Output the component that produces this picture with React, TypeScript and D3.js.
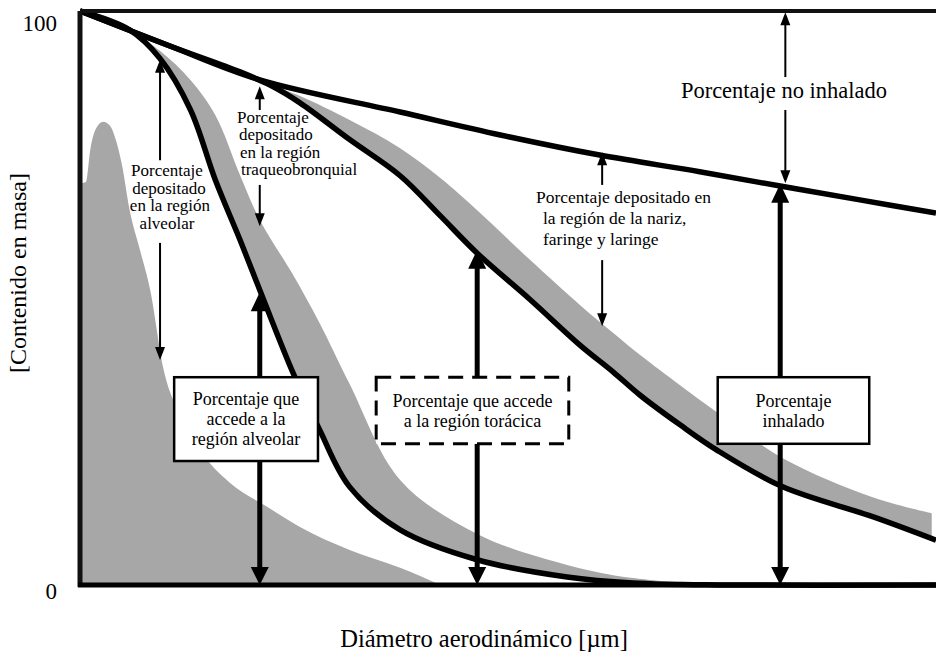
import * as d3 from "d3";

// curva de convención inhalable (x: diámetro relativo 0-100, y: % masa)
const inhalableX = [0, 10.5, 21, 37.4, 49.1, 60.7, 72.4, 81.8, 91.1, 100];
const inhalableY = [100, 93.9, 88, 82.4, 78.4, 74.9, 72, 69.5, 67.1, 64.8];

// curva torácica
const thoracicX = [0, 10.5, 18.7, 22.2, 25.7, 31.5, 37.4, 42.1, 46.4, 52.6, 58.4, 62.3, 65.4, 70.1, 74.4, 82.1, 92.6, 100];
const thoracicY = [100, 93.9, 89.4, 87.1, 84.0, 77.6, 71.3, 64.3, 57.8, 49.7, 41.8, 37.1, 33.1, 27.9, 23.5, 17.1, 11.9, 7.8];

// banda gris sobre la curva torácica
const thoracicBandX = [22.2, 25.7, 31.5, 37.4, 42.1, 46.4, 52.6, 58.4, 62.3, 65.4, 70.1, 74.4, 82.1, 92.6, 99.5];
const thoracicBandTop = [87.1, 85.2, 81.0, 76.1, 70.9, 65.3, 56.6, 48.8, 43.9, 40.1, 34.8, 30.1, 22.1, 15.3, 12.5];
const thoracicBandBottom = [87.1, 84.0, 77.6, 71.3, 64.3, 57.8, 49.7, 41.8, 37.1, 33.1, 27.9, 23.5, 17.1, 11.9, 8.2];

// curva alveolar (respirable)
const alveolarX = [0, 5.8, 9.3, 12.9, 15.8, 18.7, 21.0, 24.9, 28.0, 31.5, 37.4, 46.4, 56.9, 64.6, 74.8, 100];
const alveolarY = [100, 96.7, 91.8, 82.8, 70.6, 60.1, 51.4, 36.9, 27.0, 17.1, 9.6, 4.4, 1.4, 0.35, 0, 0];

// banda gris sobre la curva alveolar
const alveolarBandX = [5.8, 9.3, 12.9, 15.8, 18.7, 21.0, 24.9, 28.0, 31.5, 37.4, 46.4, 56.9, 64.6, 74.8];
const alveolarBandTop = [96.7, 93.1, 88.0, 81.9, 71.4, 63.6, 54.0, 45.6, 35.0, 18.3, 8.9, 3.5, 1.2, 0];
const alveolarBandBottom = [96.7, 91.8, 82.8, 70.6, 60.1, 51.4, 36.9, 27.0, 17.1, 9.6, 4.4, 1.4, 0.35, 0];

// distribución de tamaños de partícula (área gris izquierda)
const sizeDistX = [0.2, 0.7, 1.2, 1.8, 2.7, 3.5, 4.2, 4.9, 5.8, 7.0, 8.2, 9.7, 11.7, 14.0, 17.5, 21.9, 25.7, 31.5, 37.4, 42.1];
const sizeDistY = [70.0, 70.2, 75.8, 79.3, 80.7, 80.0, 77.5, 73.2, 65.3, 58.4, 51.4, 38.0, 29.6, 23.5, 17.8, 13.6, 10.1, 6.1, 3.0, 0];

const yTicks = [100, 0];

// flechas gruesas con recuadro
const accessArrows = [
  { x: 21.0, tip: 51.0, box: [11.0, 27.8, 36.2, 21.6], dashed: false, lines: ["Porcentaje que", "accede a la", "región alveolar"] },
  { x: 46.4, tip: 58.4, box: [34.6, 57.1, 36.2, 24.6], dashed: true, lines: ["Porcentaje que accede", "a la región torácica"] },
  { x: 81.8, tip: 69.9, box: [74.5, 92.2, 36.2, 24.6], dashed: false, lines: ["Porcentaje", "inhalado"] },
];

// flechas finas
const depositArrows = [
  { x: 9.35, up: [74.0, 91.5], down: [59.6, 39.2] },
  { x: 21.0, up: [82.75, 86.9], down: [69.7, 62.5] },
  { x: 61.0, up: [69.7, 75.4], down: [56.6, 45.1] },
  { x: 82.4, up: [88.5, 99.8], down: [82.75, 70.0] },
];

const depositLabels = [
  { x: 10.16, y: 71.25, anchor: "middle", size: 17, lh: 17.5, dx: [0, 2, 3, 0], lines: ["Porcentaje", "depositado", "en la región", "alveolar"] },
  { x: 18.34, y: 80.5, anchor: "start", size: 17, lh: 17.5, dx: [0, 2, 3, 4], lines: ["Porcentaje", "depositado", "en la región", "traqueobronquial"] },
  { x: 53.27, y: 66.55, anchor: "start", size: 17.5, lh: 21, dx: [0, 7, 7], lines: ["Porcentaje depositado en", "la región de la nariz,", "faringe y laringe"] },
  { x: 82.24, y: 84.84, anchor: "middle", size: 22.5, lh: 0, dx: [0], lines: ["Porcentaje no inhalado"] },
];

const FONT = "'Liberation Serif', 'Times New Roman', Times, serif";
const GRAY = "#a7a7a7";

const x = d3.scaleLinear().domain([0, 100]).range([80, 936]);
const y = d3.scaleLinear().domain([0, 100]).range([585, 11]);

type P = [number, number];
const zip = (a: number[], b: number[]): P[] => a.map((v, i) => [v, b[i]] as P);

const smooth = d3.curveCatmullRom.alpha(0.5);

const line = d3
  .line<P>()
  .x((d) => x(d[0]))
  .y((d) => Math.min(y(0), y(d[1])))
  .curve(smooth);

function band(xs: number[], top: number[], bottom: number[]) {
  const rows = xs.map((v, i) => ({ v, t: top[i], b: bottom[i] }));
  return d3
    .area<{ v: number; t: number; b: number }>()
    .x((d) => x(d.v))
    .y0((d) => y(d.b))
    .y1((d) => y(d.t))
    .curve(smooth)(rows);
}

function head(cx: number, tip: number, up: boolean, w: number, h: number) {
  const base = up ? tip + h : tip - h;
  return `M${cx},${tip}L${cx - w / 2},${base}L${cx + w / 2},${base}Z`;
}

export default function App() {
  const sizeArea = d3
    .area<P>()
    .x((d) => x(d[0]))
    .y0(y(0))
    .y1((d) => y(d[1]))
    .curve(d3.curveMonotoneX)(zip(sizeDistX, sizeDistY));

  return (
    <svg
      width={936}
      height={658}
      style={{ position: "absolute", left: 0, top: 0, background: "#fff", fontFamily: FONT }}
    >
      <rect width={936} height={658} fill="#fff" />
      {/* áreas grises */}
      <path d={sizeArea || ""} fill={GRAY} />
      <path d={band(alveolarBandX, alveolarBandTop, alveolarBandBottom) || ""} fill={GRAY} />
      <path d={band(thoracicBandX, thoracicBandTop, thoracicBandBottom) || ""} fill={GRAY} />

      {/* curvas */}
      <path d={line(zip(inhalableX, inhalableY)) || ""} fill="none" stroke="#000" strokeWidth={5.5} />
      <path d={line(zip(thoracicX, thoracicY)) || ""} fill="none" stroke="#000" strokeWidth={5.5} />
      <path d={line(zip(alveolarX, alveolarY)) || ""} fill="none" stroke="#000" strokeWidth={5.5} />

      {/* marco */}
      <line x1={x(0)} x2={x(100)} y1={y(100)} y2={y(100)} stroke="#111" strokeWidth={4} />
      <line x1={x(0)} x2={x(0)} y1={y(100)} y2={y(0) + 2} stroke="#111" strokeWidth={5} />
      <line x1={x(0) - 2} x2={x(100)} y1={y(0)} y2={y(0)} stroke="#000" strokeWidth={5} />

      {/* etiquetas de eje */}
      {yTicks.map((t) => (
        <text key={t} x={57} y={y(t) + (t === 100 ? 12 : 6)} textAnchor="end" dominantBaseline="central" fontSize={23}>
          {t}
        </text>
      ))}
      <text x={484} y={647} textAnchor="middle" fontSize={24.5}>
        Diámetro aerodinámico [µm]
      </text>
      <text transform="translate(26,273) rotate(-90)" textAnchor="middle" fontSize={24}>
        [Contenido en masa]
      </text>

      {/* flechas finas */}
      {depositArrows.map((a, i) => {
        const cx = x(a.x);
        return (
          <g key={i}>
            <line x1={cx} x2={cx} y1={y(a.up[0])} y2={y(a.up[1]) + 10} stroke="#000" strokeWidth={2} />
            <path d={head(cx, y(a.up[1]), true, 10, 13)} fill="#000" />
            <line x1={cx} x2={cx} y1={y(a.down[0])} y2={y(a.down[1]) - 10} stroke="#000" strokeWidth={2} />
            <path d={head(cx, y(a.down[1]), false, 10, 13)} fill="#000" />
          </g>
        );
      })}

      {depositLabels.map((l, i) => (
        <text key={i} fontSize={l.size} textAnchor={l.anchor as any}>
          {l.lines.map((s, j) => (
            <tspan key={j} x={x(l.x) + (l.dx[j] || 0)} y={y(l.y) + j * l.lh}>
              {s}
            </tspan>
          ))}
        </text>
      ))}

      {/* flechas gruesas y recuadros */}
      {accessArrows.map((a, i) => {
        const cx = x(a.x);
        const [bx0, bx1, by0, by1] = a.box;
        const top = y(by0);
        const bottom = y(by1);
        const mid = (top + bottom) / 2;
        const lh = 20;
        return (
          <g key={i}>
            <line x1={cx} x2={cx} y1={top} y2={y(a.tip) + 16} stroke="#000" strokeWidth={5} />
            <path d={head(cx, y(a.tip), true, 18, 19)} fill="#000" />
            <line x1={cx} x2={cx} y1={bottom} y2={y(0) - 16} stroke="#000" strokeWidth={5} />
            <path d={head(cx, y(0), false, 18, 18)} fill="#000" />
            <rect
              x={x(bx0)}
              y={top}
              width={x(bx1) - x(bx0)}
              height={bottom - top}
              fill="#fff"
              stroke="#000"
              strokeWidth={a.dashed ? 3 : 2.5}
              strokeDasharray={a.dashed ? "15 9" : undefined}
            />
            <text fontSize={18} textAnchor="middle" dominantBaseline="central">
              {a.lines.map((s, j) => (
                <tspan key={j} x={(x(bx0) + x(bx1)) / 2} y={mid + (j - (a.lines.length - 1) / 2) * lh}>
                  {s}
                </tspan>
              ))}
            </text>
          </g>
        );
      })}
    </svg>
  );
}
